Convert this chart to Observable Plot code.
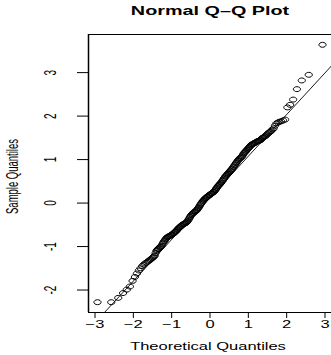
<!DOCTYPE html>
<html>
<head>
<meta charset="utf-8">
<script src="https://cdn.jsdelivr.net/npm/d3@7"></script>
<script src="https://cdn.jsdelivr.net/npm/@observablehq/plot@0.6"></script>
<style>
  html, body { margin: 0; padding: 0; background: #fff; }
  svg { display: block; }
</style>
</head>
<body>
<div id="chart"></div>
<script>
// Theoretical quantiles (x) and sample quantiles (y)
const theoretical = [
  -2.935, -2.576, -2.394, -2.268, -2.170, -2.090, -2.020, -1.960, -1.906, -1.857,
  -1.812, -1.770, -1.732, -1.695, -1.661, -1.629, -1.598, -1.569, -1.541, -1.514,
  -1.489, -1.465, -1.442, -1.420, -1.398, -1.378, -1.358, -1.338, -1.320, -1.301,
  -1.28, -1.26, -1.24, -1.22, -1.20, -1.18, -1.16, -1.14, -1.12, -1.10,
  -1.08, -1.06, -1.04, -1.02, -1.00, -0.98, -0.96, -0.94, -0.92, -0.90,
  -0.88, -0.86, -0.84, -0.82, -0.80, -0.78, -0.76, -0.74, -0.72, -0.70,
  -0.68, -0.66, -0.64, -0.62, -0.60, -0.58, -0.56, -0.54, -0.52, -0.50,
  -0.48, -0.46, -0.44, -0.42, -0.40, -0.38, -0.36, -0.34, -0.32, -0.30,
  -0.28, -0.26, -0.24, -0.22, -0.20, -0.18, -0.16, -0.14, -0.12, -0.10,
  -0.08, -0.06, -0.04, -0.02, 0.00, 0.02, 0.04, 0.06, 0.08, 0.10,
  0.12, 0.14, 0.16, 0.18, 0.20, 0.22, 0.24, 0.26, 0.28, 0.30,
  0.32, 0.34, 0.36, 0.38, 0.40, 0.42, 0.44, 0.46, 0.48, 0.50,
  0.52, 0.54, 0.56, 0.58, 0.60, 0.62, 0.64, 0.66, 0.68, 0.70,
  0.72, 0.74, 0.76, 0.78, 0.80, 0.82, 0.84, 0.86, 0.88, 0.90,
  0.92, 0.94, 0.96, 0.98, 1.00, 1.02, 1.04, 1.06, 1.08, 1.10,
  1.12, 1.14, 1.16, 1.18, 1.20, 1.22, 1.24, 1.26, 1.28,
  1.301, 1.320, 1.338, 1.358, 1.378, 1.398, 1.420, 1.442, 1.465, 1.489,
  1.514, 1.541, 1.569, 1.598, 1.629, 1.661, 1.695, 1.732, 1.770, 1.812,
  1.857, 1.906, 1.960, 2.020, 2.090, 2.170, 2.268, 2.394, 2.576, 2.935
];
const sample = [
  -2.28, -2.28, -2.18, -2.07, -1.99, -1.92, -1.79, -1.70, -1.62, -1.55,
  -1.50, -1.45, -1.42, -1.39, -1.37, -1.35, -1.33, -1.31, -1.29, -1.27,
  -1.25, -1.23, -1.21, -1.15, -1.10, -1.08, -1.06, -1.05, -1.03, -1.01,
  -1.00, -0.98, -0.94, -0.91, -0.88, -0.86, -0.83, -0.81, -0.79, -0.78,
  -0.77, -0.76, -0.75, -0.74, -0.73, -0.72, -0.70, -0.69, -0.67, -0.66,
  -0.64, -0.62, -0.60, -0.58, -0.56, -0.55, -0.53, -0.52, -0.50, -0.49,
  -0.48, -0.47, -0.46, -0.45, -0.43, -0.41, -0.38, -0.35, -0.32, -0.29,
  -0.27, -0.25, -0.23, -0.22, -0.20, -0.19, -0.17, -0.16, -0.13, -0.11,
  -0.08, -0.05, -0.02, 0.00, 0.03, 0.05, 0.07, 0.09, 0.11, 0.12,
  0.14, 0.15, 0.17, 0.18, 0.19, 0.21, 0.22, 0.23, 0.25, 0.26,
  0.28, 0.30, 0.33, 0.35, 0.38, 0.40, 0.42, 0.44, 0.46, 0.48,
  0.51, 0.53, 0.56, 0.58, 0.61, 0.63, 0.65, 0.67, 0.69, 0.71,
  0.73, 0.75, 0.77, 0.79, 0.82, 0.84, 0.87, 0.89, 0.92, 0.94,
  0.97, 0.99, 1.01, 1.03, 1.04, 1.06, 1.08, 1.11, 1.14, 1.16,
  1.18, 1.20, 1.22, 1.24, 1.26, 1.28, 1.30, 1.32, 1.34, 1.35,
  1.36, 1.37, 1.38, 1.39, 1.40, 1.41, 1.42, 1.43, 1.435,
  1.44, 1.45, 1.47, 1.49, 1.50, 1.51, 1.53, 1.54, 1.56, 1.58,
  1.60, 1.62, 1.64, 1.66, 1.69, 1.72, 1.78, 1.83, 1.85, 1.87,
  1.88, 1.90, 1.92, 2.20, 2.26, 2.38, 2.62, 2.82, 2.95, 3.64
];
// Reference line through the quartiles (qqline)
const lineTheoreticalQuartiles = [-0.674, 0.674];
const lineSampleQuartiles = [-0.525, 0.766];

const xTicks = [-3, -2, -1, 0, 1, 2, 3];
const yTicks = [-2, -1, 0, 1, 2, 3];
const titleText = "Normal Q\u2013Q Plot";
const xLabel = "Theoretical Quantiles";
const yLabel = "Sample Quantiles";

const points = theoretical.map((x, i) => ({x, y: sample[i]}));

function padded(ext) { const d = (ext[1] - ext[0]) * 0.04; return [ext[0] - d, ext[1] + d]; }
const xDomain = padded(d3.extent(theoretical));
const yDomain = padded(d3.extent(sample));

const slope = (lineSampleQuartiles[1] - lineSampleQuartiles[0]) / (lineTheoreticalQuartiles[1] - lineTheoreticalQuartiles[0]);
const intercept = lineSampleQuartiles[0] - slope * lineTheoreticalQuartiles[0];
const lineData = [xDomain[0] - 1, xDomain[1] + 1].map(x => ({x, y: intercept + slope * x}));

const ellipse = {
  draw(context, size) {
    const r = Math.sqrt(size / Math.PI);
    const rx = r * 1.2, ry = r * 0.82, k = 0.5523;
    context.moveTo(rx, 0);
    context.bezierCurveTo(rx, k * ry, k * rx, ry, 0, ry);
    context.bezierCurveTo(-k * rx, ry, -rx, k * ry, -rx, 0);
    context.bezierCurveTo(-rx, -k * ry, -k * rx, -ry, 0, -ry);
    context.bezierCurveTo(k * rx, -ry, rx, -k * ry, rx, 0);
    context.closePath();
  }
};

const font = "'Liberation Sans', Arial, Helvetica, sans-serif";

const chart = Plot.plot({
  width: 331,
  height: 355,
  marginLeft: 88,
  marginRight: 0,
  marginTop: 34,
  marginBottom: 43,
  style: {fontFamily: font, fontSize: "10px", background: "#fff", overflow: "visible"},
  x: {domain: xDomain},
  y: {domain: yDomain},
  marks: [
    Plot.ruleY([yDomain[1]], {stroke: "#000", strokeWidth: 1}),
    Plot.ruleY([yDomain[0]], {stroke: "#000", strokeWidth: 1}),
    Plot.ruleX([xDomain[0]], {stroke: "#000", strokeWidth: 1.5}),
    Plot.axisX(xTicks, {tickSize: 6, tickFormat: () => "", stroke: "#000", strokeOpacity: 1, label: null}),
    Plot.axisY(yTicks, {tickSize: 11, tickFormat: () => "", stroke: "#000", strokeOpacity: 1, label: null}),
    Plot.line(lineData, {x: "x", y: "y", stroke: "#000", strokeWidth: 0.9, clip: true}),
    Plot.dot(points, {x: "x", y: "y", r: 3, symbol: ellipse, stroke: "#000", strokeWidth: 1, fill: "none"}),
    Plot.text(xTicks, {x: d => d, frameAnchor: "bottom", dy: 15, lineAnchor: "middle", textAnchor: "middle", text: d => d < 0 ? "\u2212" + (-d) : String(d), fill: "#000", fontSize: 10}),
    Plot.text(yTicks, {y: d => d, frameAnchor: "left", dx: -33, rotate: -90, lineAnchor: "middle", textAnchor: "middle", text: d => String(d), fill: "#000", fontSize: 10}),
    Plot.text([xLabel], {frameAnchor: "bottom", dy: 37, dx: -2, lineAnchor: "middle", textAnchor: "middle", text: d => d, fill: "#000", fontSize: 10}),
    Plot.text([yLabel], {frameAnchor: "left", dx: -71, dy: 3, rotate: -90, lineAnchor: "middle", textAnchor: "middle", text: d => d, fill: "#000", fontSize: 9.5}),
    Plot.text([titleText], {frameAnchor: "top", dy: -20, lineAnchor: "middle", textAnchor: "middle", text: d => d, fill: "#000", fontSize: 12, fontWeight: "bold"})
  ]
});

document.getElementById("chart").appendChild(chart);

// The reference is stretched horizontally relative to vertical: widen glyphs
const stretch = 1.65;
chart.querySelectorAll("text").forEach(t => {
  if (!t.textContent) return;
  const tr = t.getAttribute("transform") || "";
  const rot = /rotate/.test(tr);
  const x = +t.getAttribute("x") || 0, y = +t.getAttribute("y") || 0;
  t.removeAttribute("x"); t.removeAttribute("y");
  t.setAttribute("transform", `${tr} translate(${x},${y}) ${rot ? `scale(1,${stretch})` : `scale(${stretch},1)`}`);
});
</script>
</body>
</html>
